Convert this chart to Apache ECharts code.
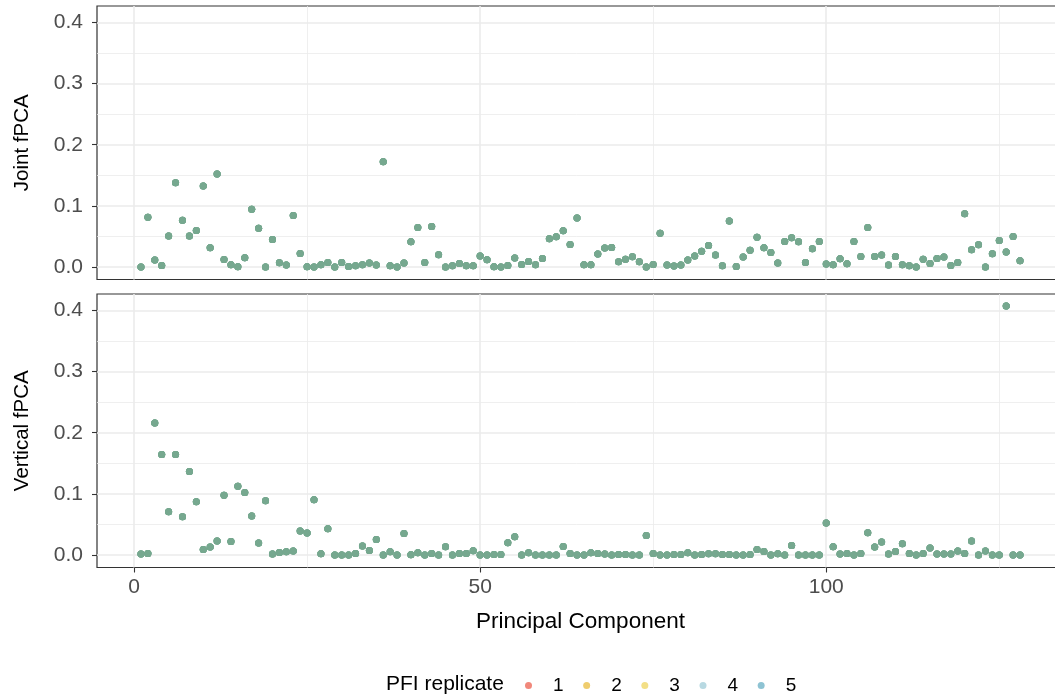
<!DOCTYPE html>
<html>
<head>
<meta charset="utf-8">
<script src="https://cdn.jsdelivr.net/npm/echarts@6/dist/echarts.min.js"></script>
<style>
html,body{margin:0;padding:0;background:#fff;}
#chart{width:1055px;height:698px;}
</style>
</head>
<body>
<div id="chart"></div>
<script>
// Principal component indices
const components = [];
for (let i = 1; i <= 128; i++) components.push(i);

// Variance explained per component
const jointFPCA = [
0.000,0.0815,0.0114,0.0027,0.051,0.138,0.0766,0.051,0.0598,0.1326,
0.0315,0.152,0.0125,0.0038,0.0005,0.0152,0.0946,0.0636,0.000,0.0451,
0.0071,0.0033,0.0842,0.0223,0.0005,0.000,0.0038,0.0076,0.000,0.0076,
0.001,0.002,0.0038,0.0065,0.0033,0.172,0.002,0.000,0.0065,0.0413,
0.0647,0.0076,0.0663,0.0201,0.000,0.002,0.006,0.002,0.002,0.018,
0.012,0.0005,0.000,0.0027,0.0147,0.0043,0.0092,0.0038,0.0141,0.0462,
0.0495,0.0592,0.037,0.0804,0.0038,0.0038,0.0212,0.031,0.032,0.0087,
0.013,0.0168,0.0087,0.000,0.0043,0.0554,0.0033,0.0016,0.0033,0.0114,
0.018,0.026,0.0353,0.0196,0.002,0.0755,0.001,0.0163,0.0277,0.0489,
0.0315,0.0239,0.0065,0.0418,0.0478,0.0413,0.0076,0.0299,0.0418,0.0049,
0.0038,0.0136,0.0054,0.0418,0.0174,0.0647,0.0174,0.0196,0.0033,0.0174,
0.0038,0.002,0.000,0.013,0.006,0.0141,0.0163,0.0027,0.0076,0.087,
0.0283,0.0364,0.000,0.0217,0.0435,0.0245,0.05,0.0103
];
const verticalFPCA = [
0.0016,0.0027,0.216,0.1644,0.0708,0.1644,0.0626,0.1366,0.0871,0.0093,
0.0131,0.0229,0.098,0.0223,0.1127,0.1023,0.0637,0.0196,0.0887,0.0016,
0.0044,0.0054,0.0065,0.0392,0.0359,0.0904,0.0022,0.043,0,0,
0,0.0027,0.0147,0.0076,0.0256,0,0.0054,0,0.0354,0.0005,
0.0038,0,0.0027,0,0.0136,0,0.0027,0.0027,0.0071,0,
0,0.0011,0.0011,0.0201,0.03,0,0.0038,0,0,0,
0,0.0142,0.0027,0,0,0.0038,0.0027,0.0016,0,0.001,
0.001,0,0,0.032,0.0027,0,0,0.001,0.001,0.0038,
0,0.001,0.002,0.002,0.001,0.001,0,0,0.001,0.0093,
0.006,0,0.002,0,0.0158,0,0,0,0,0.0523,
0.0136,0.0016,0.0027,0,0.0027,0.0365,0.0131,0.0212,0.0016,0.006,
0.0185,0.0027,0,0.0027,0.0114,0.0016,0.0016,0.0016,0.0065,0.0027,
0.0229,0,0.0065,0,0,0.407,0,0
];
const replicates = ['1','2','3','4','5'];
const replicateColors = ['#F1887B','#EFCD6E','#F3DF86','#B8D9E2','#8EC3D3'];
const panelNames = ['Joint fPCA','Vertical fPCA'];
const xMajorTicks = [0,50,100];
const xMinorTicks = [25,75,125];
const yMajorTicks = [0,0.1,0.2,0.3,0.4];
const yMinorTicks = [0.05,0.15,0.25,0.35];

const FONT = '"Liberation Sans", Arial, Helvetica, sans-serif';
const pointColor = '#76A88F';
const XMIN = -5.35, XMAX = 134.35, YMIN = -0.0203, YMAX = 0.4268;

const grids = [
  {left: 97, top: 6, width: 967, height: 273.5},
  {left: 97, top: 294, width: 967, height: 273.5}
];

const xAxes = [], yAxes = [];
grids.forEach((g, gi) => {
  const bottom = gi === 1;
  xAxes.push({
    type: 'value', gridIndex: gi, min: XMIN, max: XMAX, position: 'bottom',
    axisLine: {show: false, onZero: false},
    axisTick: {show: bottom, customValues: xMajorTicks, length: 5, lineStyle: {color: '#333333', width: 1.1}},
    axisLabel: {show: bottom, customValues: xMajorTicks, margin: 9, fontSize: 21, color: '#4D4D4D', fontFamily: FONT},
    splitLine: {show: true, lineStyle: {color: '#EBEBEB', width: 1.6}},
    name: bottom ? 'Principal Component' : '',
    nameLocation: 'middle', nameGap: 43,
    nameTextStyle: {fontSize: 22.5, color: '#000', fontFamily: FONT}
  });
  xAxes.push({
    type: 'value', gridIndex: gi, min: XMIN, max: XMAX, position: 'bottom',
    axisLine: {show: false, onZero: false},
    axisTick: {show: false, customValues: xMinorTicks},
    axisLabel: {show: false, customValues: xMinorTicks},
    splitLine: {show: true, lineStyle: {color: '#EBEBEB', width: 0.8}}
  });
  yAxes.push({
    type: 'value', gridIndex: gi, min: YMIN, max: YMAX, position: 'left',
    axisLine: {show: false, onZero: false},
    axisTick: {show: true, customValues: yMajorTicks, length: 5, lineStyle: {color: '#333333', width: 1.1}},
    axisLabel: {customValues: yMajorTicks, margin: 14, fontSize: 21, color: '#4D4D4D', fontFamily: FONT,
      formatter: v => Number(v).toFixed(1)},
    splitLine: {show: true, lineStyle: {color: '#EBEBEB', width: 1.6}},
    name: panelNames[gi], nameLocation: 'middle', nameGap: 64, nameRotate: 90,
    nameTextStyle: {fontSize: 20.5, color: '#000', fontFamily: FONT}
  });
  yAxes.push({
    type: 'value', gridIndex: gi, min: YMIN, max: YMAX, position: 'left',
    axisLine: {show: false, onZero: false},
    axisTick: {show: false, customValues: yMinorTicks},
    axisLabel: {show: false, customValues: yMinorTicks},
    splitLine: {show: true, lineStyle: {color: '#EBEBEB', width: 0.8}}
  });
});

const panelData = [jointFPCA, verticalFPCA];
const series = [];
panelData.forEach((vals, pi) => {
  const pts = components.map((c, i) => [c, vals[i]]);
  replicates.forEach((r) => {
    series.push({
      type: 'scatter', name: r,
      xAxisIndex: pi * 2, yAxisIndex: pi * 2,
      data: pts, symbol: 'circle', symbolSize: 7,
      itemStyle: {color: pointColor, opacity: 1},
      emphasis: {disabled: true}, z: 5
    });
  });
});

const chart = echarts.init(document.getElementById('chart'), null, {renderer: 'canvas'});
chart.setOption({
  animation: false,
  backgroundColor: '#ffffff',
  grid: grids.map(g => Object.assign({show: true, outerBoundsMode: 'none', containLabel: false,
    borderColor: '#333333', borderWidth: 1.2, backgroundColor: 'transparent'}, g)),
  xAxis: xAxes,
  yAxis: yAxes,
  title: {
    text: 'PFI replicate', left: 386, top: 674, padding: 0,
    textStyle: {fontSize: 21, fontWeight: 'normal', color: '#000', fontFamily: FONT}
  },
  legend: {
    left: 525, top: 676, padding: 0, selectedMode: false,
    icon: 'circle', itemWidth: 7, itemHeight: 7, itemGap: 19.6,
    data: replicates.map((r, i) => ({name: r, itemStyle: {color: replicateColors[i]}})),
    textStyle: {fontSize: 19, color: '#000', fontFamily: FONT, padding: [0, 0, 0, 16]}
  },
  series: series
});
</script>
</body>
</html>
